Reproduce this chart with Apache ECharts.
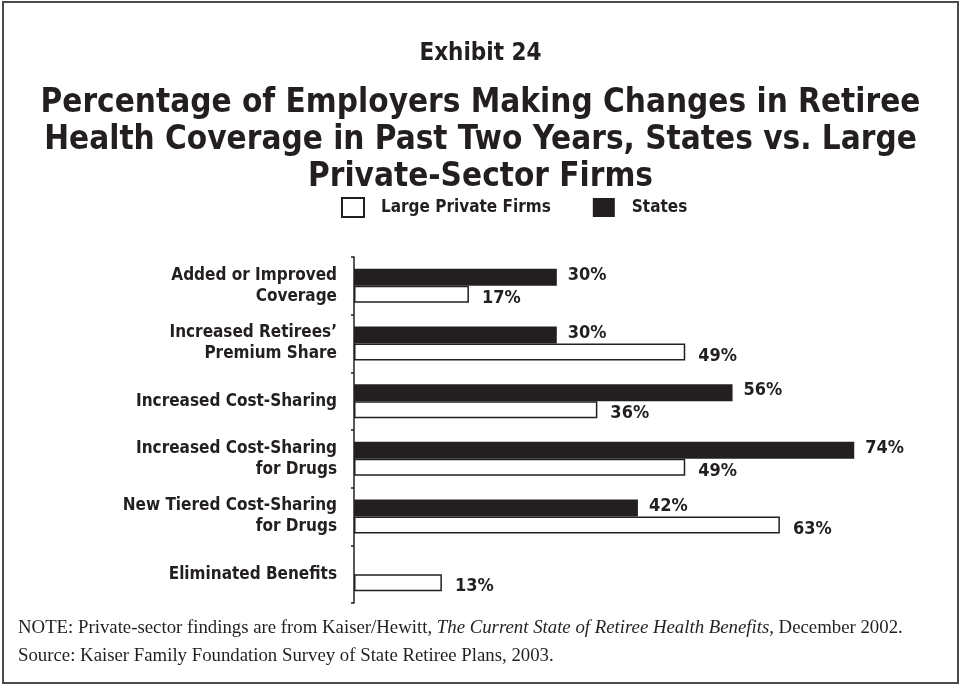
<!DOCTYPE html>
<html>
<head>
<meta charset="utf-8">
<script src="https://cdn.jsdelivr.net/npm/echarts@6/dist/echarts.min.js"></script>
<style>
  html, body { margin: 0; padding: 0; background: #ffffff; }
  #chart { width: 961px; height: 686px; }
</style>
</head>
<body>
<div id="chart"></div>
<script>
// Retiree health coverage changes, share of employers (%)
const categories = [
  'Added or Improved\nCoverage',
  'Increased Retirees\u2019\nPremium Share',
  'Increased Cost-Sharing',
  'Increased Cost-Sharing\nfor Drugs',
  'New Tiered Cost-Sharing\nfor Drugs',
  'Eliminated Benefits'
];
const statesValues = [30, 30, 56, 74, 42, null];
const privateValues = [17, 49, 36, 49, 63, 13];
const seriesNames = ['Large Private Firms', 'States'];

const ink = '#231f20';
const narrow = '"DejaVu Sans Condensed", "Liberation Sans Narrow", sans-serif';
const serif = '"Liberation Serif", "Times New Roman", serif';

const chart = echarts.init(document.getElementById('chart'), null, { renderer: 'canvas' });

chart.setOption({
  backgroundColor: '#ffffff',
  animation: false,
  textStyle: { fontFamily: narrow, color: ink },
  title: [
    {
      text: 'Exhibit 24',
      left: 'center',
      top: 37,
      textStyle: { fontFamily: narrow, fontWeight: 'bold', fontSize: 24, color: ink }
    },
    {
      text: 'Percentage of Employers Making Changes in Retiree\nHealth Coverage in Past Two Years, States vs. Large\nPrivate-Sector Firms',
      left: 'center',
      top: 80,
      textStyle: { fontFamily: narrow, fontWeight: 'bold', fontSize: 33, lineHeight: 37, color: ink, align: 'center' }
    }
  ],
  legend: {
    data: seriesNames,
    left: 336,
    top: 192,
    icon: 'rect',
    itemWidth: 22,
    itemHeight: 19,
    itemGap: 42,
    selectedMode: false,
    textStyle: { fontFamily: narrow, fontWeight: 'bold', fontSize: 17, color: ink, padding: [0, 0, 0, 12] }
  },
  grid: { left: 354, top: 257, bottom: 83, width: 540.8, containLabel: false },
  xAxis: {
    type: 'value',
    min: 0,
    max: 80,
    show: false
  },
  yAxis: {
    type: 'category',
    data: categories,
    inverse: true,
    axisLine: { show: true, lineStyle: { color: ink, width: 1.5 } },
    axisTick: { show: true, length: 3, lineStyle: { color: ink, width: 1.5 } },
    axisLabel: {
      margin: 17,
      fontFamily: narrow,
      fontWeight: 'bold',
      fontSize: 17,
      lineHeight: 21,
      color: ink,
      align: 'right'
    }
  },
  series: [
    {
      name: 'States',
      type: 'bar',
      data: statesValues,
      barWidth: 17,
      barGap: '0%',
      itemStyle: { color: ink },
      label: {
        show: true,
        position: 'right',
        distance: 11,
        offset: [0, -2],
        formatter: p => p.value + '%',
        fontFamily: narrow,
        fontWeight: 'bold',
        fontSize: 18,
        color: ink
      }
    },
    {
      name: 'Large Private Firms',
      type: 'bar',
      data: privateValues,
      barWidth: 17,
      barGap: '0%',
      itemStyle: { color: '#ffffff', borderColor: ink, borderWidth: 1.5 },
      label: {
        show: true,
        position: 'right',
        distance: 13,
        offset: [0, 4],
        formatter: p => p.value + '%',
        fontFamily: narrow,
        fontWeight: 'bold',
        fontSize: 18,
        color: ink
      }
    }
  ],
  graphic: [
    {
      type: 'rect',
      shape: { x: 3, y: 2, width: 955, height: 681 },
      style: { fill: 'none', stroke: '#4a4a4a', lineWidth: 2 },
      silent: true
    },
    {
      type: 'text',
      left: 18,
      top: 619,
      style: {
        text: '{n|NOTE: Private-sector findings are from Kaiser/Hewitt, }{i|The Current State of Retiree Health Benefits,}{n| December 2002.}',
        rich: {
          n: { fontFamily: serif, fontSize: 18.8, fill: ink },
          i: { fontFamily: serif, fontSize: 18.8, fontStyle: 'italic', fill: ink }
        }
      }
    },
    {
      type: 'text',
      left: 18,
      top: 647,
      style: {
        text: 'Source: Kaiser Family Foundation Survey of State Retiree Plans, 2003.',
        fontFamily: serif,
        fontSize: 18.8,
        fill: ink
      }
    }
  ]
});
</script>
</body>
</html>
